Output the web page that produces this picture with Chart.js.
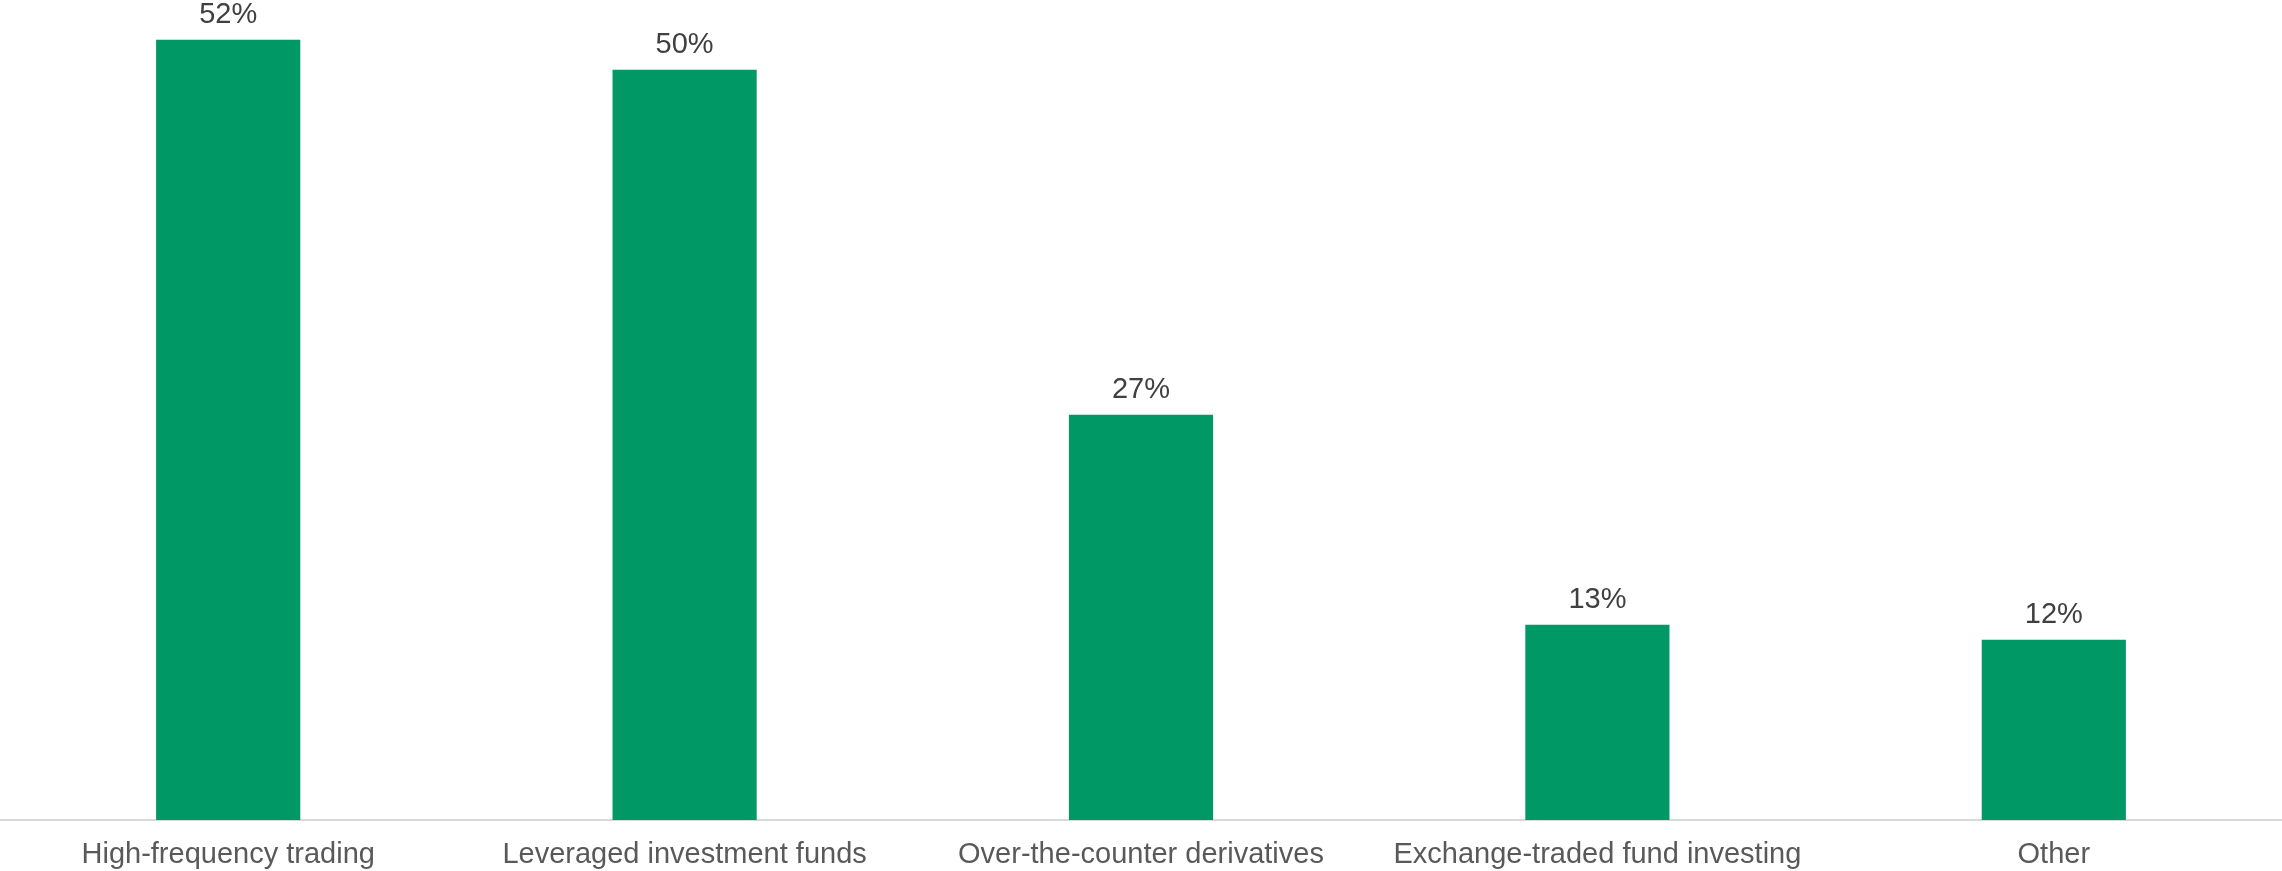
<!DOCTYPE html>
<html>
<head>
<meta charset="utf-8">
<script src="https://cdn.jsdelivr.net/npm/chart.js@4.4.0/dist/chart.umd.min.js"></script>
<style>
  html, body {
    margin: 0;
    padding: 0;
    background: #ffffff;
  }
  #wrapper {
    width: 2282px;
    height: 871px;
  }
</style>
</head>
<body>
<div id="wrapper">
  <canvas id="canvasMitte" width="2282" height="871"></canvas>
</div>
<script>
// Kategorien und Werte (Prozent)
const kategorien = [
  "High-frequency trading",
  "Leveraged investment funds",
  "Over-the-counter derivatives",
  "Exchange-traded fund investing",
  "Other",
];
const anteile = [52, 50, 27, 13, 12];
const balkenFarbe = "#009966";

// Prozentwerte ueber die Balken schreiben
const werteUeberBalken = {
  id: "werteUeberBalken",
  afterDatasetsDraw(chart) {
    const ctx = chart.ctx;
    const meta = chart.getDatasetMeta(0);
    ctx.save();
    ctx.font = "29px 'Liberation Sans', Arial, sans-serif";
    ctx.fillStyle = "#404040";
    ctx.textAlign = "center";
    ctx.textBaseline = "alphabetic";
    meta.data.forEach((balken, i) => {
      ctx.fillText(`${anteile[i]}%`, balken.x, balken.y - 17);
    });
    ctx.restore();
  },
};

function erstelleBalkenDiagramm(canvasID) {
  const canvas = document.getElementById(canvasID).getContext("2d");
  return new Chart(canvas, {
    type: "bar",
    data: {
      labels: kategorien,
      datasets: [
        {
          data: anteile,
          backgroundColor: balkenFarbe,
          borderWidth: 0,
          barThickness: 143.5,
        },
      ],
    },
    options: {
      responsive: false,
      animation: false,
      layout: {
        padding: 0,
      },
      plugins: {
        legend: {
          display: false,
        },
        tooltip: {
          enabled: false,
        },
      },
      scales: {
        x: {
          // feste Hoehe fuer die Achsenbeschriftung
          afterFit(scale) {
            scale.height = 51;
          },
          grid: {
            display: false,
            drawTicks: false,
          },
          border: {
            display: true,
            color: "#d9d9d9",
            width: 2,
          },
          ticks: {
            padding: 18,
            color: "#595959",
            maxRotation: 0,
            autoSkip: false,
            font: {
              family: "'Liberation Sans', Arial, sans-serif",
              size: 29,
            },
          },
        },
        y: {
          display: false,
          min: 0,
          max: 54.67,
        },
      },
    },
    plugins: [werteUeberBalken],
  });
}

window.chartMitte = erstelleBalkenDiagramm("canvasMitte");
</script>
</body>
</html>
